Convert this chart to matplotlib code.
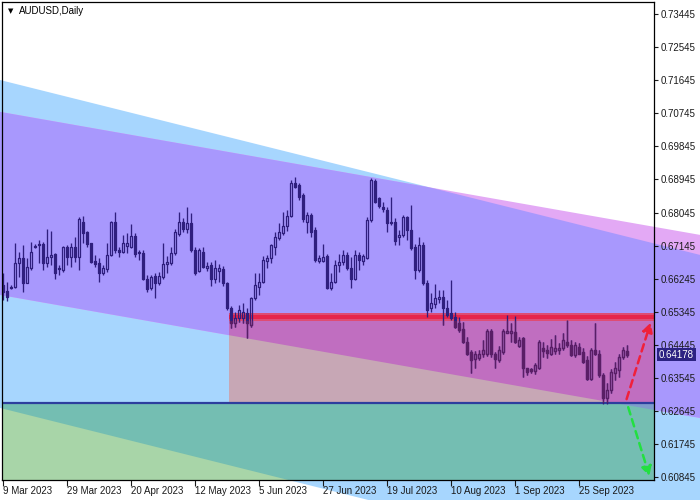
import matplotlib
matplotlib.use('Agg')
import matplotlib.pyplot as plt
from matplotlib.patches import Polygon, Rectangle
from matplotlib.collections import LineCollection, PatchCollection
from matplotlib.transforms import blended_transform_factory

# ---------------- data (AUDUSD, Daily) ----------------
opens = [0.6607, 0.6591, 0.6603, 0.6601, 0.6666, 0.6680, 0.6614, 0.6653, 0.6714, 0.6716,
         0.6718, 0.6666, 0.6683, 0.6691, 0.6654, 0.6648, 0.6712, 0.6684, 0.6712, 0.6684,
         0.6780, 0.6751, 0.6721, 0.6673, 0.6666, 0.6639, 0.6651, 0.6689, 0.6778, 0.6703,
         0.6698, 0.6713, 0.6712, 0.6742, 0.6698, 0.6694, 0.6625, 0.6598, 0.6632, 0.6612,
         0.6628, 0.6664, 0.6668, 0.6694, 0.6745, 0.6778, 0.6761, 0.6777, 0.6703, 0.6645,
         0.6698, 0.6653, 0.6662, 0.6623, 0.6645, 0.6652, 0.6612, 0.6545, 0.6503, 0.6517,
         0.6517, 0.6530, 0.6498, 0.6571, 0.6603, 0.6616, 0.6672, 0.6680, 0.6711, 0.6734,
         0.6750, 0.6768, 0.6795, 0.6884, 0.6879, 0.6852, 0.6780, 0.6798, 0.6757, 0.6674,
         0.6674, 0.6686, 0.6598, 0.6616, 0.6662, 0.6671, 0.6689, 0.6653, 0.6625, 0.6689,
         0.6674, 0.6680, 0.6784, 0.6889, 0.6843, 0.6819, 0.6811, 0.6775, 0.6780, 0.6739,
         0.6743, 0.6793, 0.6757, 0.6710, 0.6648, 0.6716, 0.6612, 0.6544, 0.6556, 0.6569,
         0.6574, 0.6544, 0.6530, 0.6521, 0.6505, 0.6487, 0.6453, 0.6426, 0.6405, 0.6408,
         0.6420, 0.6420, 0.6483, 0.6421, 0.6403, 0.6426, 0.6478, 0.6476, 0.6480, 0.6441,
         0.6462, 0.6381, 0.6378, 0.6374, 0.6383, 0.6435, 0.6431, 0.6420, 0.6429, 0.6431,
         0.6435, 0.6453, 0.6444, 0.6417, 0.6440, 0.6426, 0.6403, 0.6353, 0.6431, 0.6421,
         0.6362, 0.6299, 0.6322, 0.6369, 0.6376, 0.6411, 0.6429]
highs = [0.6640, 0.6616, 0.6607, 0.6721, 0.6698, 0.6716, 0.6680, 0.6725, 0.6718, 0.6730,
         0.6725, 0.6759, 0.6755, 0.6694, 0.6662, 0.6713, 0.6716, 0.6721, 0.6739, 0.6793,
         0.6796, 0.6754, 0.6723, 0.6689, 0.6680, 0.6662, 0.6721, 0.6782, 0.6805, 0.6712,
         0.6743, 0.6748, 0.6773, 0.6748, 0.6703, 0.6704, 0.6635, 0.6635, 0.6639, 0.6644,
         0.6721, 0.6686, 0.6712, 0.6759, 0.6805, 0.6789, 0.6820, 0.6802, 0.6712, 0.6707,
         0.6712, 0.6671, 0.6671, 0.6675, 0.6664, 0.6658, 0.6616, 0.6550, 0.6535, 0.6553,
         0.6559, 0.6544, 0.6576, 0.6639, 0.6639, 0.6686, 0.6689, 0.6720, 0.6752, 0.6775,
         0.6807, 0.6811, 0.6893, 0.6900, 0.6884, 0.6857, 0.6807, 0.6802, 0.6766, 0.6689,
         0.6720, 0.6693, 0.6639, 0.6675, 0.6693, 0.6702, 0.6698, 0.6684, 0.6702, 0.6698,
         0.6693, 0.6793, 0.6898, 0.6895, 0.6848, 0.6834, 0.6820, 0.6848, 0.6789, 0.6757,
         0.6798, 0.6796, 0.6825, 0.6720, 0.6739, 0.6725, 0.6621, 0.6585, 0.6610, 0.6594,
         0.6594, 0.6567, 0.6621, 0.6535, 0.6521, 0.6508, 0.6467, 0.6431, 0.6429, 0.6431,
         0.6458, 0.6487, 0.6487, 0.6426, 0.6441, 0.6487, 0.6526, 0.6503, 0.6522, 0.6467,
         0.6467, 0.6383, 0.6383, 0.6394, 0.6458, 0.6453, 0.6444, 0.6460, 0.6471, 0.6449,
         0.6476, 0.6512, 0.6458, 0.6453, 0.6449, 0.6435, 0.6414, 0.6435, 0.6503, 0.6431,
         0.6367, 0.6340, 0.6378, 0.6399, 0.6421, 0.6440, 0.6444]
lows = [0.6566, 0.6564, 0.6597, 0.6598, 0.6630, 0.6589, 0.6612, 0.6648, 0.6707, 0.6666,
        0.6648, 0.6657, 0.6662, 0.6625, 0.6635, 0.6644, 0.6662, 0.6657, 0.6671, 0.6648,
        0.6721, 0.6712, 0.6666, 0.6657, 0.6616, 0.6635, 0.6644, 0.6686, 0.6695, 0.6683,
        0.6694, 0.6694, 0.6707, 0.6684, 0.6675, 0.6621, 0.6589, 0.6594, 0.6571, 0.6607,
        0.6623, 0.6639, 0.6662, 0.6689, 0.6742, 0.6752, 0.6748, 0.6698, 0.6635, 0.6644,
        0.6653, 0.6646, 0.6605, 0.6612, 0.6615, 0.6605, 0.6539, 0.6490, 0.6494, 0.6508,
        0.6503, 0.6462, 0.6494, 0.6566, 0.6580, 0.6612, 0.6653, 0.6668, 0.6689, 0.6730,
        0.6743, 0.6755, 0.6793, 0.6870, 0.6839, 0.6780, 0.6748, 0.6739, 0.6671, 0.6666,
        0.6671, 0.6596, 0.6594, 0.6612, 0.6644, 0.6662, 0.6648, 0.6598, 0.6621, 0.6648,
        0.6662, 0.6677, 0.6780, 0.6830, 0.6816, 0.6807, 0.6752, 0.6770, 0.6716, 0.6716,
        0.6739, 0.6730, 0.6702, 0.6625, 0.6644, 0.6607, 0.6521, 0.6535, 0.6544, 0.6558,
        0.6499, 0.6521, 0.6512, 0.6490, 0.6480, 0.6449, 0.6417, 0.6367, 0.6381, 0.6403,
        0.6412, 0.6414, 0.6412, 0.6381, 0.6399, 0.6421, 0.6476, 0.6453, 0.6449, 0.6440,
        0.6358, 0.6362, 0.6367, 0.6365, 0.6378, 0.6411, 0.6408, 0.6417, 0.6421, 0.6420,
        0.6431, 0.6440, 0.6414, 0.6412, 0.6420, 0.6394, 0.6349, 0.6349, 0.6417, 0.6358,
        0.6285, 0.6285, 0.6313, 0.6349, 0.6358, 0.6405, 0.6411]
closes = [0.6588, 0.6574, 0.6599, 0.6666, 0.6680, 0.6614, 0.6657, 0.6698, 0.6710, 0.6718,
          0.6668, 0.6684, 0.6689, 0.6641, 0.6652, 0.6712, 0.6683, 0.6712, 0.6683, 0.6787,
          0.6748, 0.6718, 0.6671, 0.6664, 0.6641, 0.6653, 0.6689, 0.6778, 0.6703, 0.6698,
          0.6721, 0.6723, 0.6742, 0.6691, 0.6694, 0.6625, 0.6596, 0.6630, 0.6612, 0.6632,
          0.6664, 0.6671, 0.6694, 0.6751, 0.6780, 0.6761, 0.6777, 0.6703, 0.6639, 0.6703,
          0.6657, 0.6659, 0.6623, 0.6654, 0.6654, 0.6612, 0.6545, 0.6504, 0.6517, 0.6539,
          0.6535, 0.6503, 0.6571, 0.6607, 0.6616, 0.6675, 0.6680, 0.6716, 0.6739, 0.6752,
          0.6768, 0.6795, 0.6884, 0.6875, 0.6848, 0.6786, 0.6798, 0.6752, 0.6675, 0.6682,
          0.6684, 0.6598, 0.6616, 0.6662, 0.6671, 0.6689, 0.6653, 0.6625, 0.6689, 0.6675,
          0.6686, 0.6784, 0.6893, 0.6834, 0.6822, 0.6813, 0.6775, 0.6780, 0.6728, 0.6743,
          0.6793, 0.6757, 0.6707, 0.6648, 0.6716, 0.6612, 0.6539, 0.6558, 0.6571, 0.6576,
          0.6544, 0.6526, 0.6519, 0.6494, 0.6485, 0.6453, 0.6421, 0.6403, 0.6420, 0.6420,
          0.6431, 0.6483, 0.6421, 0.6405, 0.6431, 0.6483, 0.6483, 0.6483, 0.6453, 0.6458,
          0.6381, 0.6372, 0.6374, 0.6390, 0.6453, 0.6429, 0.6423, 0.6440, 0.6435, 0.6435,
          0.6458, 0.6444, 0.6417, 0.6444, 0.6421, 0.6399, 0.6353, 0.6431, 0.6421, 0.6362,
          0.6299, 0.6322, 0.6372, 0.6381, 0.6412, 0.6432, 0.6418]

date_labels = ['9 Mar 2023', '29 Mar 2023', '20 Apr 2023', '12 May 2023', '5 Jun 2023',
               '27 Jun 2023', '19 Jul 2023', '10 Aug 2023', '1 Sep 2023', '25 Sep 2023']
date_label_bars = [0, 16, 32, 48, 64, 80, 96, 112, 128, 144]
price_ticks = [0.73445, 0.72545, 0.71645, 0.70745, 0.69845, 0.68945, 0.68045, 0.67145,
               0.66245, 0.65345, 0.64445, 0.63545, 0.62645, 0.61745, 0.60845]

# drawn objects (anchors in bar index / price)
blue_channel_upper = [(0, 0.7163), (160, 0.6728)]
blue_channel_width = 0.0892
pink_channel_upper = [(0, 0.7077), (160, 0.6771)]
pink_channel_width = 0.0498
support_level = 0.6286
resistance_level = 0.6520
resistance_half = 0.0010
zone_start_bar = 56.6
last_price = 0.64178
up_arrow = [(155.9, 0.6297), (161.9, 0.6505)]
down_arrow = [(156.3, 0.6275), (161.6, 0.6088)]

# ---------------- styling ----------------
LIGHT_BLUE = '#A7D6FE'
PINK = '#E3A9F5'
PURPLE = '#A898FD'
PALE_GREEN = '#A8D5A8'
TEAL = '#74BEB2'
GREEN_PINK = '#7E9CCB'
DUSTY = '#C7A7B5'
MAGENTA = '#C06EC0'
CANDLE = '#2F1F7E'
CANDLE_ZONE = '#5A1E66'
FONT = 'Liberation Sans'

XMIN, XMAX = -0.25, 162.75
YMIN, YMAX = 0.60784, 0.73772

fig = plt.figure(figsize=(7, 5), dpi=100)
fig.patch.set_facecolor('white')
ax = fig.add_axes([2 / 700, 1 - 479.5 / 500, 652 / 700, 477.5 / 500])
ax.set_xlim(XMIN, XMAX)
ax.set_ylim(YMIN, YMAX)


def channel_vertices(upper, width, x0=-40, x1=230):
    (xa, ya), (xb, yb) = upper
    slope = (yb - ya) / (xb - xa)
    u0 = ya + slope * (x0 - xa)
    u1 = ya + slope * (x1 - xa)
    return [(x0, u0), (x1, u1), (x1, u1 - width), (x0, u0 - width)]


def clip_to(artist, patch):
    # patch must be a Polygon so that it is used as a real clip path
    artist.set_clip_path(patch)
    artist.set_clip_box(None)


blue_verts = channel_vertices(blue_channel_upper, blue_channel_width)
pink_verts = channel_vertices(pink_channel_upper, pink_channel_width)

blue_patch = Polygon(blue_verts, closed=True, fc=LIGHT_BLUE, ec='none', zorder=0.1, clip_on=False)
ax.add_patch(blue_patch)
pink_patch = Polygon(pink_verts, closed=True, fc=PINK, ec='none', zorder=0.2, clip_on=False)
ax.add_patch(pink_patch)
purple_patch = Polygon(pink_verts, closed=True, fc=PURPLE, ec='none', zorder=0.3)
ax.add_patch(purple_patch)
clip_to(purple_patch, blue_patch)

# green target zone below support
g_kw = dict(xy=(XMIN, YMIN), width=XMAX - XMIN, height=support_level - YMIN, ec='none')
ax.add_patch(Rectangle(fc=PALE_GREEN, zorder=0.4, **g_kw))
teal = Rectangle(fc=TEAL, zorder=0.5, **g_kw)
ax.add_patch(teal)
clip_to(teal, blue_patch)
gp = Rectangle(fc=GREEN_PINK, zorder=0.55, **g_kw)
ax.add_patch(gp)
clip_to(gp, pink_patch)

# range zone between support and resistance
z_kw = dict(xy=(zone_start_bar, support_level), width=XMAX - zone_start_bar,
            height=resistance_level - support_level, ec='none')
ax.add_patch(Rectangle(fc=DUSTY, zorder=0.6, **z_kw))
zone_pink = Rectangle(fc=MAGENTA, zorder=0.7, **z_kw)
ax.add_patch(zone_pink)
clip_to(zone_pink, pink_patch)

# resistance band
ax.add_patch(Rectangle((zone_start_bar, resistance_level - resistance_half), XMAX - zone_start_bar,
                       2 * resistance_half, fc='#DE4C74', ec='none', zorder=0.8))
ax.add_patch(Rectangle((zone_start_bar, resistance_level - 0.55 * resistance_half), XMAX - zone_start_bar,
                       1.1 * resistance_half, fc='#E6254C', ec='none', zorder=0.85))

# support line
ax.axhline(support_level, color='#2C3E9E', lw=1.6, zorder=0.9)


# ---------------- candles ----------------
def draw_candles(color, clip=None, z=2.0):
    segs = []
    bodies_f, bodies_h = [], []
    for i, (o, h, l, c) in enumerate(zip(opens, highs, lows, closes)):
        top, bot = max(o, c), min(o, c)
        segs.append([(i, h), (i, top)])
        segs.append([(i, bot), (i, l)])
        r = Rectangle((i - 0.32, bot), 0.64, max(top - bot, 0.00005))
        (bodies_h if c >= o else bodies_f).append(r)
    lc = LineCollection(segs, colors=color, linewidths=0.95, zorder=z)
    pf = PatchCollection(bodies_f, facecolor=color, edgecolor=color, linewidths=0.9, zorder=z)
    ph = PatchCollection(bodies_h, facecolor='none', edgecolor=color, linewidths=0.9, zorder=z)
    for art in (lc, pf, ph):
        ax.add_collection(art)
        if clip is not None:
            clip_to(art, clip)


draw_candles(CANDLE)
zx0, zx1 = zone_start_bar, XMAX
zy0, zy1 = support_level, resistance_level - resistance_half
zone_clip = Polygon([(zx0, zy0), (zx1, zy0), (zx1, zy1), (zx0, zy1)], closed=True,
                    transform=ax.transData, fc='none', ec='none')
draw_candles(CANDLE_ZONE, clip=zone_clip, z=2.1)

# ---------------- arrows ----------------
ax.annotate('', xy=up_arrow[1], xytext=up_arrow[0],
            arrowprops=dict(arrowstyle='-|>,head_length=0.55,head_width=0.3', color='#F0203A',
                            lw=1.8, linestyle=(0, (3, 2)), shrinkA=0, shrinkB=0),
            zorder=3, annotation_clip=False)
ax.annotate('', xy=down_arrow[1], xytext=down_arrow[0],
            arrowprops=dict(arrowstyle='-|>,head_length=0.55,head_width=0.3', color='#22E040',
                            lw=1.8, linestyle=(0, (3, 2)), shrinkA=0, shrinkB=0),
            zorder=3, annotation_clip=False)

# ---------------- axes / ticks ----------------
for s in ax.spines.values():
    s.set_color('black')
    s.set_linewidth(0.9)
    s.set_zorder(4)

ax.yaxis.tick_right()
ax.set_yticks(price_ticks)
ax.set_yticklabels([f'{v:.5f}' for v in price_ticks], fontfamily=FONT, fontsize=7, color='#1a1a1a')
ax.tick_params(axis='y', direction='out', length=3, width=0.8, pad=2, colors='#1a1a1a')

ax.set_xticks(date_label_bars)
ax.set_xticklabels(date_labels, fontfamily=FONT, fontsize=7, ha='left', color='#1a1a1a')
ax.tick_params(axis='x', direction='out', length=4, width=0.8, pad=0.5, colors='#1a1a1a')

# current price marker
trans = blended_transform_factory(ax.transAxes, ax.transData)
ax.text(1.0 + 5 / 652, last_price, f'{last_price:.5f}', transform=trans, ha='left', va='center',
        color='white', fontsize=7, fontfamily=FONT, zorder=5, clip_on=False,
        bbox=dict(boxstyle='square,pad=0.18', fc='#2C2282', ec='none'))

# title
fig.text(8 / 700, 1 - 11 / 500, '\u25BC', fontsize=5, family='DejaVu Sans', va='center', ha='left',
         color='black')
fig.text(19 / 700, 1 - 11 / 500, 'AUDUSD,Daily', fontsize=7, family=FONT, va='center', ha='left',
         color='black')

fig.savefig('out.png', dpi=100, facecolor='white')
